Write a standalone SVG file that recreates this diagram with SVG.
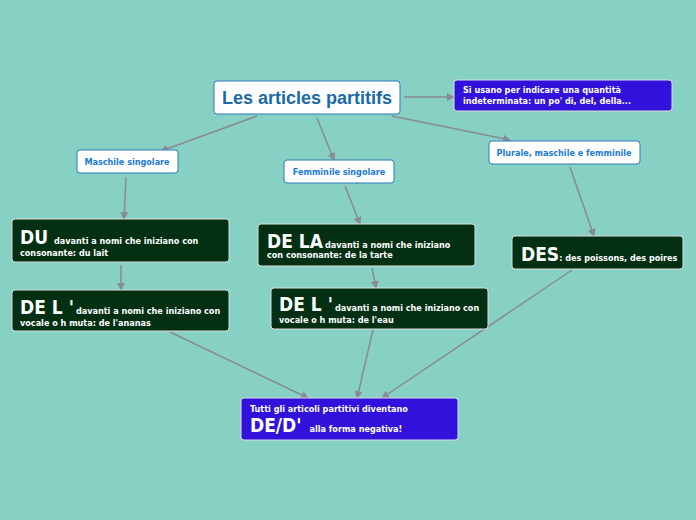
<svg xmlns="http://www.w3.org/2000/svg" width="696" height="520" viewBox="0 0 696 520">
<style>
.w{fill:#fff;stroke:#2a7ac0;stroke-width:1}
.g{fill:#033013;stroke:#ddd;stroke-width:1}
.b{fill:#3311dd;stroke:#ddd;stroke-width:1}
text{font-family:"DejaVu Sans Condensed","DejaVu Sans",sans-serif;font-weight:bold}
.sm{font-size:9px;fill:#fff}
.big{font-size:19px;fill:#fff}
.bl{font-size:9px;fill:#1a7ad8}
line{stroke:#8a8a94;stroke-width:1.5;marker-end:url(#a)}
</style>
<defs><marker id="a" markerWidth="8" markerHeight="8" refX="7" refY="4" orient="auto" markerUnits="userSpaceOnUse"><path d="M0,0L8,4L0,8z" fill="#8a8a94"/></marker></defs>
<rect width="696" height="520" fill="#87d0c4"/>
<g id="connectors">
<line x1="404" y1="97" x2="454" y2="97"/>
<line x1="257" y1="116" x2="161" y2="151"/>
<line x1="317" y1="118" x2="334" y2="160"/>
<line x1="392" y1="116" x2="510" y2="140"/>
<line x1="126" y1="177" x2="124" y2="219"/>
<line x1="345" y1="186" x2="360" y2="224"/>
<line x1="570" y1="167" x2="594" y2="236"/>
<line x1="121" y1="265" x2="121" y2="290"/>
<line x1="372" y1="268" x2="376" y2="288"/>
<line x1="170" y1="332" x2="308" y2="398"/>
<line x1="373" y1="330" x2="357" y2="398"/>
<line x1="572" y1="270" x2="382" y2="398"/>
</g>
<g id="root"><rect class="w" x="214" y="81" width="186" height="33" rx="3"/><text x="307" y="104" text-anchor="middle" font-family="Liberation Sans,sans-serif" style="font-family:'Liberation Sans',sans-serif;font-size:18px;fill:#1a6aa8">Les articles partitifs</text></g>
<g id="note"><rect class="b" x="454" y="80" width="218" height="31" rx="3"/><text class="sm" x="463" y="93">Si usano per indicare una quantità</text><text class="sm" x="463" y="104">indeterminata: un po' di, del, della...</text></g>
<g id="masc"><rect class="w" x="77" y="150" width="101" height="23" rx="3"/><text class="bl" x="127" y="165" text-anchor="middle">Maschile singolare</text></g>
<g id="fem"><rect class="w" x="284" y="160" width="110" height="23" rx="3"/><text class="bl" x="339" y="175" text-anchor="middle">Femminile singolare</text></g>
<g id="plur"><rect class="w" x="489" y="141" width="151" height="23" rx="3"/><text class="bl" x="564" y="156" text-anchor="middle">Plurale, maschile e femminile</text></g>
<g id="du"><rect class="g" x="12" y="219" width="217" height="43" rx="3"/><text x="20" y="244"><tspan class="big">DU</tspan><tspan class="sm" dx="6">davanti a nomi che iniziano con</tspan></text><text class="sm" x="20" y="256">consonante: du lait</text></g>
<g id="dela"><rect class="g" x="258" y="224" width="217" height="42" rx="3"/><text x="267" y="248"><tspan class="big">DE LA</tspan><tspan class="sm" dx="2">davanti a nomi che iniziano</tspan></text><text class="sm" x="267" y="258">con consonante: de la tarte</text></g>
<g id="des"><rect class="g" x="512" y="236" width="171" height="33" rx="3"/><text x="521" y="261"><tspan class="big">DES</tspan><tspan class="sm">: des poissons, des poires</tspan></text></g>
<g id="del1"><rect class="g" x="12" y="290" width="217" height="41" rx="3"/><text x="20" y="314"><tspan class="big">DE L '</tspan><tspan class="sm" dx="2">davanti a nomi che iniziano con</tspan></text><text class="sm" x="20" y="326">vocale o h muta: de l'ananas</text></g>
<g id="del2"><rect class="g" x="271" y="288" width="217" height="41" rx="3"/><text x="279" y="311"><tspan class="big">DE L '</tspan><tspan class="sm" dx="2">davanti a nomi che iniziano con</tspan></text><text class="sm" x="279" y="323">vocale o h muta: de l'eau</text></g>
<g id="neg"><rect class="b" x="241" y="398" width="217" height="42" rx="3"/><text class="sm" x="250" y="412">Tutti gli articoli partitivi diventano</text><text x="250" y="432"><tspan class="big">DE/D'</tspan><tspan class="sm" dx="8">alla forma negativa!</tspan></text></g>
</svg>
